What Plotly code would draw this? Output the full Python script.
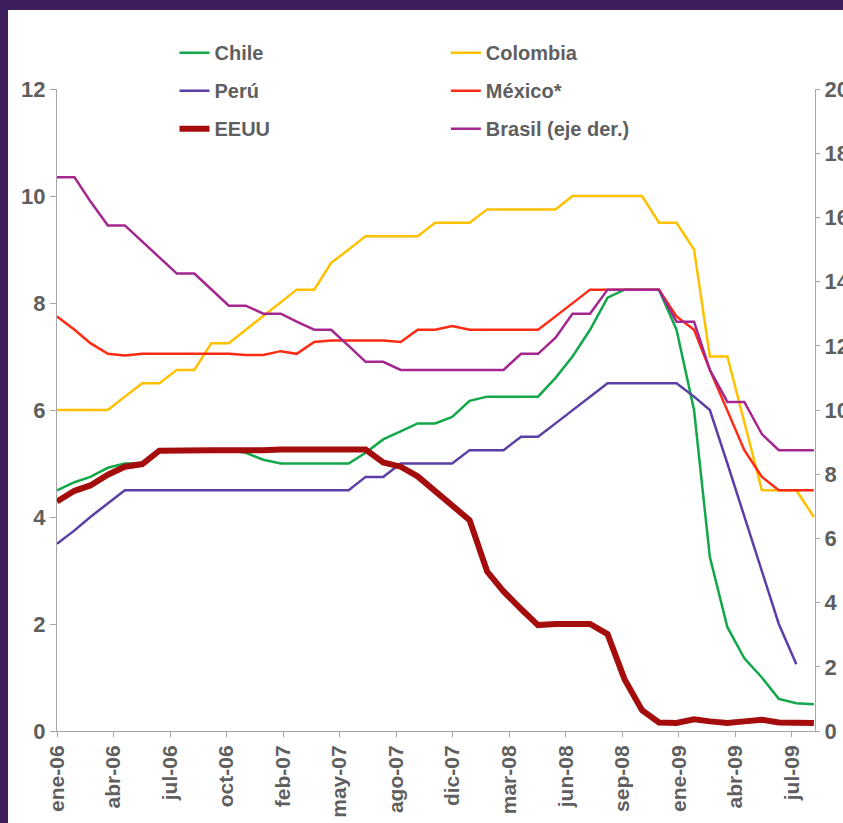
import plotly.graph_objects as go
from datetime import date, timedelta

# Monthly observations, first day of each month, ene-2006 .. sep-2009
fechas = [f"{y}-{m:02d}-01" for y in (2006, 2007, 2008, 2009) for m in range(1, 13)][:45]

chile = [4.5, 4.65, 4.75, 4.92, 5.0, 5.0, 5.25, 5.25, 5.25, 5.25, 5.25, 5.2,
         5.07, 5.0, 5.0, 5.0, 5.0, 5.0, 5.2, 5.45, 5.6, 5.75, 5.75, 5.87,
         6.17, 6.25, 6.25, 6.25, 6.25, 6.6, 7.0, 7.5, 8.1, 8.25, 8.25, 8.25,
         7.5, 6.0, 3.25, 1.94, 1.36, 1.0, 0.6, 0.52, 0.5]

colombia = [6.0, 6.0, 6.0, 6.0, 6.25, 6.5, 6.5, 6.75, 6.75, 7.25, 7.25, 7.5,
            7.75, 8.0, 8.25, 8.25, 8.75, 9.0, 9.25, 9.25, 9.25, 9.25, 9.5, 9.5,
            9.5, 9.75, 9.75, 9.75, 9.75, 9.75, 10.0, 10.0, 10.0, 10.0, 10.0, 9.5,
            9.5, 9.0, 7.0, 7.0, 5.75, 4.5, 4.5, 4.5, 4.0]

peru = [3.5, 3.75, 4.0, 4.25, 4.5, 4.5, 4.5, 4.5, 4.5, 4.5, 4.5, 4.5,
        4.5, 4.5, 4.5, 4.5, 4.5, 4.5, 4.75, 4.75, 5.0, 5.0, 5.0, 5.0,
        5.25, 5.25, 5.25, 5.5, 5.5, 5.75, 6.0, 6.25, 6.5, 6.5, 6.5, 6.5,
        6.5, 6.25, 6.0, 5.0, 4.0, 3.0, 2.0, 1.25, None]

mexico = [7.75, 7.5, 7.25, 7.05, 7.02, 7.05, 7.05, 7.05, 7.05, 7.05, 7.05, 7.03,
          7.03, 7.1, 7.05, 7.27, 7.3, 7.3, 7.3, 7.3, 7.27, 7.5, 7.5, 7.57,
          7.5, 7.5, 7.5, 7.5, 7.5, 7.75, 8.0, 8.25, 8.25, 8.25, 8.25, 8.25,
          7.75, 7.5, 6.75, 6.0, 5.25, 4.75, 4.5, 4.5, 4.5]

eeuu = [4.29, 4.49, 4.59, 4.79, 4.94, 4.99, 5.24, 5.25, 5.25, 5.25, 5.25, 5.24,
        5.25, 5.26, 5.26, 5.25, 5.25, 5.25, 5.26, 5.02, 4.94, 4.76, 4.49, 4.24,
        3.94, 2.98, 2.61, 2.28, 1.98, 2.0, 2.01, 2.0, 1.81, 0.97, 0.39, 0.16,
        0.15, 0.22, 0.18, 0.15, 0.18, 0.21, 0.16, 0.16, 0.15]

brasil = [17.25, 17.25, 16.5, 15.75, 15.75, 15.25, 14.75, 14.25, 14.25, 13.75, 13.25, 13.25,
          13.0, 13.0, 12.75, 12.5, 12.5, 12.0, 11.5, 11.5, 11.25, 11.25, 11.25, 11.25,
          11.25, 11.25, 11.25, 11.75, 11.75, 12.25, 13.0, 13.0, 13.75, 13.75, 13.75, 13.75,
          12.75, 12.75, 11.25, 10.25, 10.25, 9.25, 8.75, 8.75, 8.75]

etiquetas_x = ["ene-06", "abr-06", "jul-06", "oct-06", "feb-07", "may-07", "ago-07",
               "dic-07", "mar-08", "jun-08", "sep-08", "ene-09", "abr-09", "jul-09"]

# axis labels every 100 days starting on 1 Jan 2006
inicio = date(2006, 1, 1)
ticks_x = [(inicio + timedelta(days=100 * i)).isoformat() for i in range(len(etiquetas_x))]

GRIS = "#5f5f5f"
EJE = "#a6a6a6"
FONDO = "#3c1f5c"
SANS = "Liberation Sans, Arial, sans-serif"

series = [
    ("Chile", chile, "#12a84a", 2.5, "y", "legend"),
    ("Colombia", colombia, "#ffc000", 2.5, "y", "legend2"),
    ("Perú", peru, "#5b3fa6", 2.5, "y", "legend"),
    ("México*", mexico, "#ff2a12", 2.5, "y", "legend2"),
    ("EEUU", eeuu, "#a50d0d", 6, "y", "legend"),
    ("Brasil (eje der.)", brasil, "#a4268f", 2.5, "y2", "legend2"),
]

fig = go.Figure()
for nombre, valores, color, ancho, eje, ley in series:
    fig.add_trace(go.Scatter(
        x=fechas, y=valores, name=nombre, mode="lines", yaxis=eje,
        line=dict(color=color, width=ancho), legend=ley, legendgroup=nombre,
        connectgaps=False,
    ))

leyenda = dict(
    xanchor="left", yanchor="top", orientation="v",
    bgcolor="rgba(0,0,0,0)", tracegroupgap=9,
    font=dict(family=SANS, size=20, color=GRIS, weight="bold"),
)

fig.update_layout(
    width=843, height=823,
    margin=dict(l=57, r=28, t=89, b=92, autoexpand=False),
    paper_bgcolor=FONDO,
    plot_bgcolor="white",
    showlegend=True,
    legend=dict(leyenda, x=0.155, y=1.087),
    legend2=dict(leyenda, x=0.513, y=1.087),
    xaxis=dict(
        type="date", range=["2006-01-01", "2009-09-03"],
        tickvals=ticks_x, ticktext=etiquetas_x, tickangle=-90,
        tickfont=dict(family=SANS, size=21, color=GRIS, weight="bold"),
        showline=True, linecolor=EJE, linewidth=1,
        ticks="outside", ticklen=5, tickcolor=EJE,
        showgrid=False, zeroline=False, automargin=False,
    ),
    yaxis=dict(
        range=[0, 12], tickvals=[0, 2, 4, 6, 8, 10, 12],
        tickfont=dict(family=SANS, size=22, color=GRIS, weight="bold"),
        showline=True, linecolor=EJE, linewidth=1,
        ticks="outside", ticklen=6, tickcolor=EJE,
        showgrid=False, zeroline=False, automargin=False,
    ),
    yaxis2=dict(
        range=[0, 20], tickvals=[0, 2, 4, 6, 8, 10, 12, 14, 16, 18, 20],
        overlaying="y", side="right",
        tickfont=dict(family=SANS, size=22, color=GRIS, weight="bold"),
        showline=True, linecolor=EJE, linewidth=1,
        ticks="outside", ticklen=4, tickcolor=EJE,
        showgrid=False, zeroline=False, automargin=False,
    ),
    shapes=[dict(
        type="rect", xref="paper", yref="paper", layer="below",
        x0=-0.0646, x1=1.06, y0=-0.2, y1=1.123,
        fillcolor="white", line=dict(width=0),
    )],
)

fig.write_html("out.html")
